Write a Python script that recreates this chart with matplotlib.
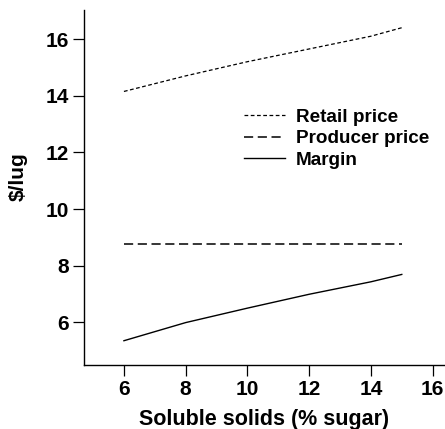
import numpy as np
import matplotlib.pyplot as plt

plt.rcParams['font.family'] = ['Liberation Sans', 'DejaVu Sans']
plt.rcParams['font.weight'] = 'bold'

# data
sugar = [6, 8, 10, 12, 14, 15]
retail = [14.15, 14.7, 15.2, 15.65, 16.1, 16.4]
producer = [8.75, 8.75, 8.75, 8.75, 8.75, 8.75]
margin = [5.35, 5.99, 6.5, 6.99, 7.43, 7.69]

xticks = [6, 8, 10, 12, 14, 16]
yticks = [6, 8, 10, 12, 14, 16]

fig = plt.figure(figsize=(4.45, 4.29), dpi=100)
ax = fig.add_axes([0.189, 0.149, 0.811, 0.828])

ax.plot(sugar, retail, color='black', linewidth=0.9, linestyle=(0, (3, 2)), label='Retail price')
ax.plot(sugar, producer, color='black', linewidth=1.1, linestyle=(0, (6, 3)), label='Producer price')
ax.plot(sugar, margin, color='black', linewidth=1.0, linestyle='solid', label='Margin')

ax.set_xlim(4.71, 16.4)
ax.set_ylim(4.49, 17.03)
ax.set_xticks(xticks)
ax.set_yticks(yticks)
ax.tick_params(direction='out', length=8, width=0.9, labelsize=15, pad=3)

for s in ['top', 'right']:
    ax.spines[s].set_visible(False)
for s in ['left', 'bottom']:
    ax.spines[s].set_linewidth(1.0)

ax.set_xlabel('Soluble solids (% sugar)', fontsize=15.5, fontweight='bold')
ax.set_ylabel('$/lug', fontsize=15, fontweight='bold')
ax.xaxis.set_label_coords(0.5, -0.124)
ax.yaxis.set_label_coords(-0.157, 0.53)

ax.legend(loc='upper left', bbox_to_anchor=(0.443, 0.722), frameon=False,
          fontsize=13.6, handlelength=2.17, handletextpad=0.58, labelspacing=0.22,
          borderaxespad=0, borderpad=0)

plt.savefig('out.png', dpi=100)
